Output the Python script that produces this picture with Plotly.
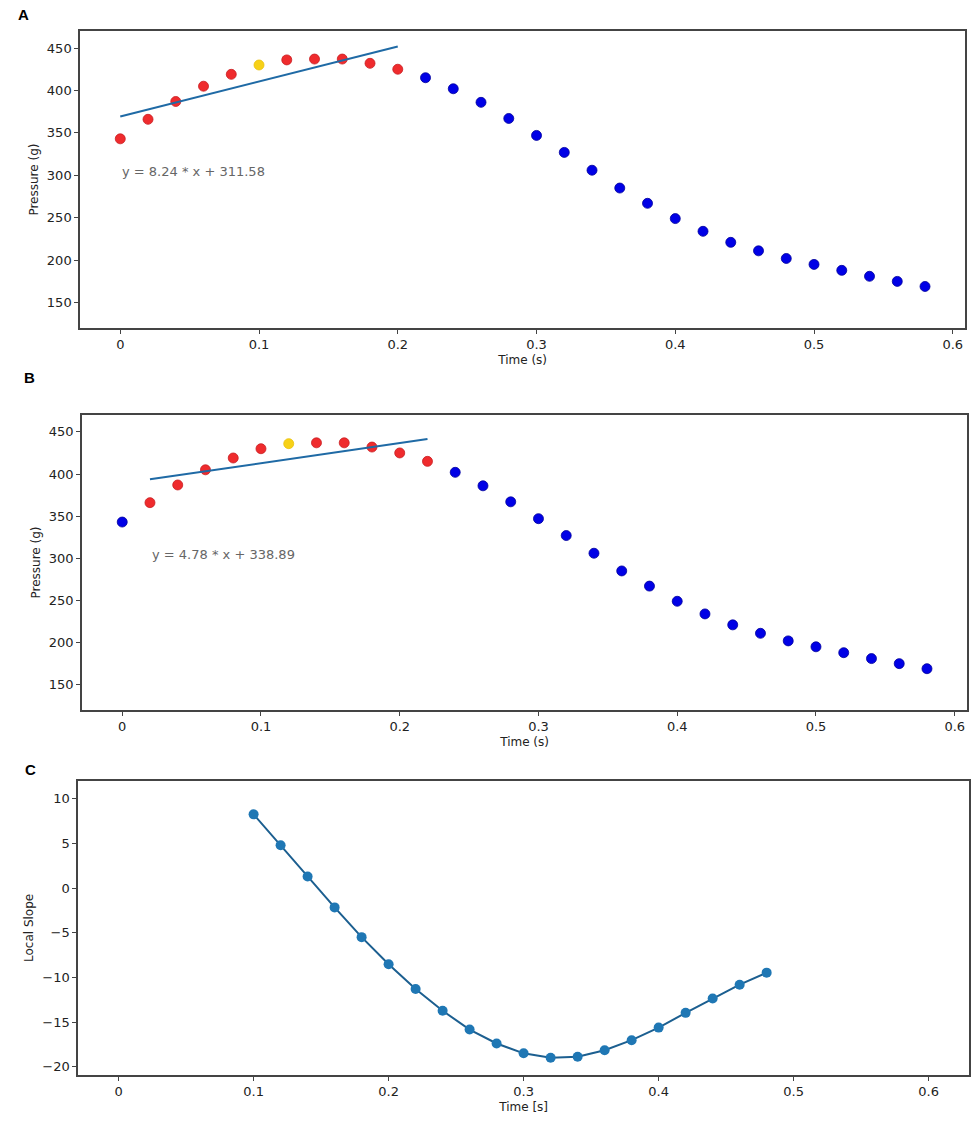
import plotly.graph_objects as go

# time axis shared by panels A and B (s)
time_s = [0.00, 0.02, 0.04, 0.06, 0.08, 0.10, 0.12, 0.14, 0.16, 0.18,
          0.20, 0.22, 0.24, 0.26, 0.28, 0.30, 0.32, 0.34, 0.36, 0.38,
          0.40, 0.42, 0.44, 0.46, 0.48, 0.50, 0.52, 0.54, 0.56, 0.58]
# pressure readings (g)
pressure_g = [343, 366, 387, 405, 419, 430, 436, 437, 437, 432,
              425, 415, 402, 386, 367, 347, 327, 306, 285, 267,
              249, 234, 221, 211, 202, 195, 188, 181, 175, 169]

# colour class of each point in A and B: window points, window centre, the rest
class_a = ['r'] * 11 + ['b'] * 19
class_a[5] = 'y'
class_b = ['b'] + ['r'] * 11 + ['b'] * 18
class_b[6] = 'y'

# fitted lines (endpoints) and their labels
fit_a_x = [0.00, 0.20]
fit_a_y = [369.3, 451.7]
fit_a_text = 'y = 8.24 * x + 311.58'
fit_b_x = [0.02, 0.22]
fit_b_y = [393.7, 441.5]
fit_b_text = 'y = 4.78 * x + 338.89'

# panel C: local slope of the moving fit
slope_t = [0.10, 0.12, 0.14, 0.16, 0.18, 0.20, 0.22, 0.24, 0.26, 0.28,
           0.30, 0.32, 0.34, 0.36, 0.38, 0.40, 0.42, 0.44, 0.46, 0.48]
slope_v = [8.24, 4.78, 1.28, -2.17, -5.50, -8.54, -11.30, -13.74, -15.84, -17.40,
           -18.50, -18.99, -18.88, -18.16, -17.03, -15.62, -13.97, -12.36, -10.82, -9.47]

colors = {'r': '#ef2b2d', 'y': '#f7d117', 'b': '#0000e6'}
edges = {'r': '#c81e22', 'y': '#e8c20e', 'b': '#00009c'}
FONT = 'DejaVu Sans'

fig = go.Figure()


def add_panel(fig, cls, fx, fy, xa, ya):
    '''scatter points coloured by class plus the fit line'''
    for key in ['r', 'y', 'b']:
        xs = [t for t, c in zip(time_s, cls) if c == key]
        ys = [p for p, c in zip(pressure_g, cls) if c == key]
        fig.add_trace(go.Scatter(x=xs, y=ys, mode='markers', xaxis=xa, yaxis=ya,
                                 marker=dict(size=10, color=colors[key],
                                             line=dict(width=0.8, color=edges[key])),
                                 showlegend=False))
    fig.add_trace(go.Scatter(x=fx, y=fy, mode='lines', xaxis=xa, yaxis=ya,
                             line=dict(color='#1f6aa5', width=2), showlegend=False))


add_panel(fig, class_a, fit_a_x, fit_a_y, 'x', 'y')
add_panel(fig, class_b, fit_b_x, fit_b_y, 'x2', 'y2')

fig.add_trace(go.Scatter(x=slope_t, y=slope_v, mode='lines+markers', xaxis='x3', yaxis='y3',
                         line=dict(color='#1c5f90', width=2),
                         marker=dict(size=10, color='#1f77b4'), showlegend=False))

tick_font = dict(family=FONT, size=13, color='#222222')
title_font = dict(family=FONT, size=12, color='#222222')


def xax(dom, rng, title, anchor):
    return dict(domain=dom, range=rng, anchor=anchor, showgrid=False, zeroline=False,
                showline=True, mirror=True, linecolor='#444444', linewidth=1.5,
                ticks='outside', ticklen=4, tickcolor='#444444',
                tickvals=[0, 0.1, 0.2, 0.3, 0.4, 0.5, 0.6],
                ticktext=['0', '0.1', '0.2', '0.3', '0.4', '0.5', '0.6'],
                tickfont=tick_font, title=dict(text=title, font=title_font, standoff=4))


def yax(dom, rng, title, anchor, vals):
    return dict(domain=dom, range=rng, anchor=anchor, showgrid=False, zeroline=False,
                showline=True, mirror=True, linecolor='#444444', linewidth=1.5,
                ticks='outside', ticklen=4, tickcolor='#444444', tickvals=vals,
                tickfont=tick_font, title=dict(text=title, font=title_font, standoff=6))


p_ticks = [150, 200, 250, 300, 350, 400, 450]
s_ticks = [-20, -15, -10, -5, 0, 5, 10]

fig.update_layout(
    width=976, height=1125,
    margin=dict(l=0, r=0, t=0, b=0),
    paper_bgcolor='white', plot_bgcolor='white',
    font=dict(family=FONT),
    xaxis=xax([0.082, 0.989], [-0.029, 0.609], 'Time (s)', 'y'),
    yaxis=yax([0.7084, 0.9724], [120, 470], 'Pressure (g)', 'x', p_ticks),
    xaxis2=xax([0.084, 0.991], [-0.029, 0.609], 'Time (s)', 'y2'),
    yaxis2=yax([0.3689, 0.6311], [120, 470], 'Pressure (g)', 'x2', p_ticks),
    xaxis3=xax([0.080, 0.993], [-0.030, 0.630], 'Time [s]', 'y3'),
    yaxis3=yax([0.0444, 0.3060], [-20.93, 12.0], 'Local Slope', 'x3', s_ticks),
)

# equation labels
fig.add_annotation(x=fit_a_x[0], y=305, xref='x', yref='y', text=fit_a_text, showarrow=False,
                   xanchor='left', yanchor='middle', font=dict(family=FONT, size=13, color='#666666'))
fig.add_annotation(x=fit_b_x[0], y=305, xref='x2', yref='y2', text=fit_b_text, showarrow=False,
                   xanchor='left', yanchor='middle', font=dict(family=FONT, size=13, color='#666666'))

# panel letters
for letter, px, py in [('A', 23, 14), ('B', 29, 377), ('C', 30, 769)]:
    fig.add_annotation(x=px / 976, y=1 - py / 1125, xref='paper', yref='paper', text='<b>%s</b>' % letter,
                       showarrow=False, xanchor='center', yanchor='middle',
                       font=dict(family='Liberation Sans', size=15, color='black'))

# drop the default page margin so the figure sits at the window corner
fig.write_html("out.html", config={'displayModeBar': False},
               post_script="document.body.style.margin='0';")
